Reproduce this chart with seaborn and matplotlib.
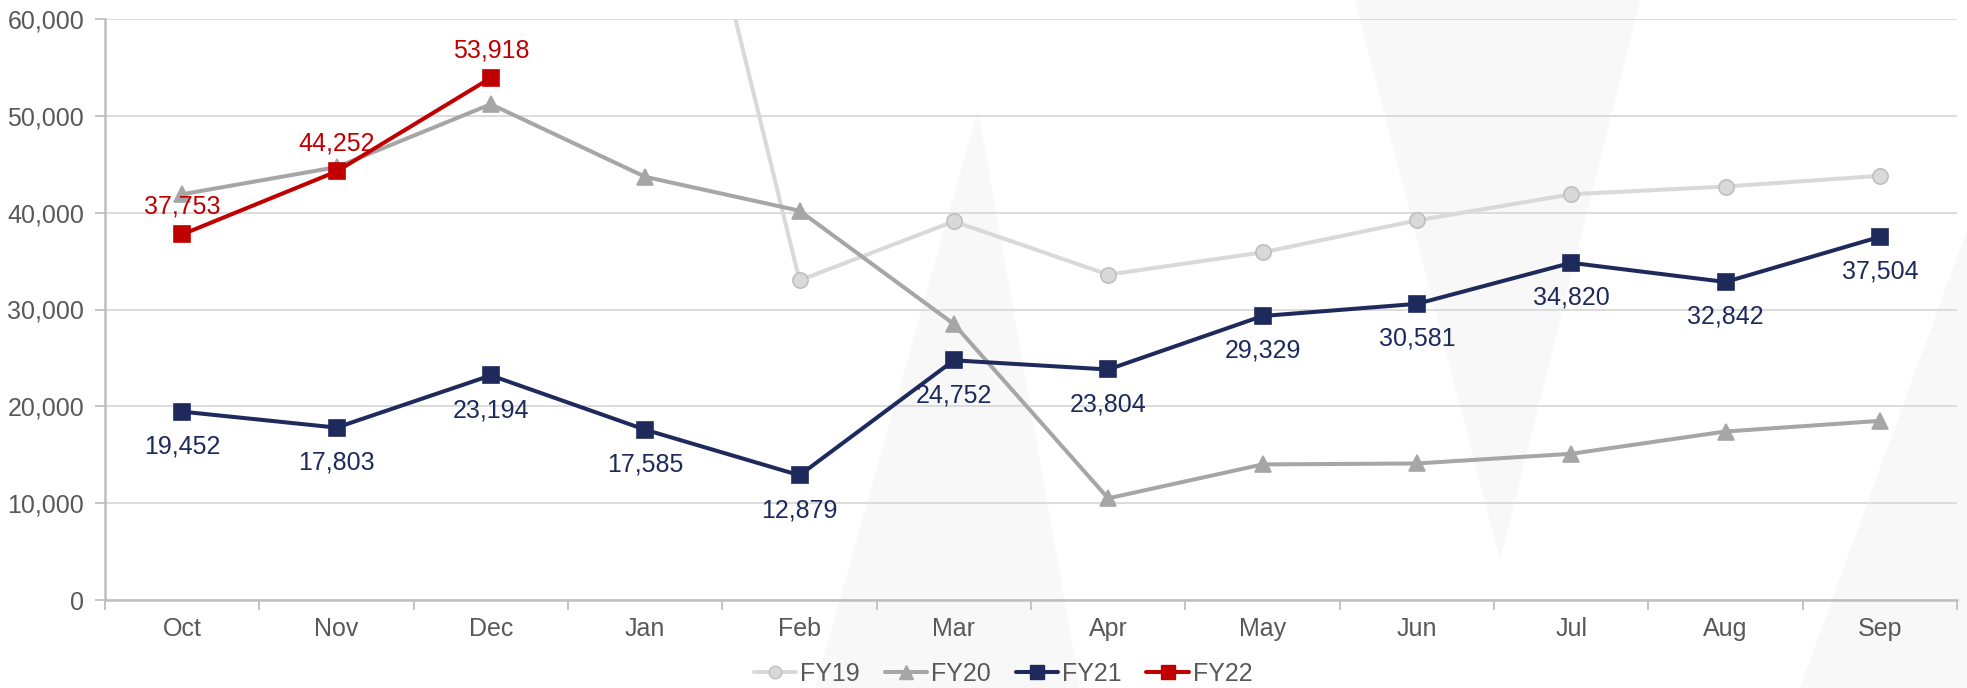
import numpy as np
import pandas as pd
import matplotlib
matplotlib.use("Agg")
import matplotlib.pyplot as plt
from matplotlib.patches import Polygon
from matplotlib.lines import Line2D
from matplotlib.ticker import FuncFormatter, FixedLocator
import seaborn as sns

sns.set_theme(style="white")
plt.rcParams['font.family'] = ['Liberation Sans', 'DejaVu Sans']

## Data ##

months = ["Oct", "Nov", "Dec", "Jan", "Feb", "Mar", "Apr", "May", "Jun", "Jul", "Aug", "Sep"]
fy19 = [np.nan, np.nan, np.nan, 98000, 33000, 39100, 33600, 35900, 39200, 41900, 42700, 43800]
fy20 = [41900, 44700, 51200, 43700, 40200, 28500, 10500, 14000, 14100, 15100, 17400, 18500]
fy21 = [19452, 17803, 23194, 17585, 12879, 24752, 23804, 29329, 30581, 34820, 32842, 37504]
fy22 = [37753, 44252, 53918, np.nan, np.nan, np.nan, np.nan, np.nan, np.nan, np.nan, np.nan, np.nan]
y_ticks = [0, 10000, 20000, 30000, 40000, 50000, 60000]

## Styles ##

styles = {
    "FY19": dict(color="#d9d9d9", marker="o", ms=11, mec="#bfbfbf", lw=2.9, z=2),
    "FY20": dict(color="#a6a6a6", marker="^", ms=12, mec="#a6a6a6", lw=2.9, z=3),
    "FY21": dict(color="#1f2a5c", marker="s", ms=12, mec="#1f2a5c", lw=2.9, z=4),
    "FY22": dict(color="#c00000", marker="s", ms=12, mec="#c00000", lw=2.9, z=5),
}
series = {"FY19": fy19, "FY20": fy20, "FY21": fy21, "FY22": fy22}

df = pd.DataFrame({"Month": months, "pos": np.arange(len(months))})
for k, v in series.items():
    df[k] = v

fig = plt.figure(figsize=(19.67, 6.88), dpi=100)
fig.patch.set_facecolor("white")

# faint watermark shapes in the background
wm = "#f8f8f8"
for pts in [
    [(815, 688), (978, 110), (1080, 688)],
    [(1355, 0), (1640, 0), (1500, 560)],
    [(1800, 688), (1967, 230), (1967, 688)],
]:
    fig.patches.append(Polygon([(x / 1967, 1 - y / 688) for x, y in pts],
                               closed=True, transform=fig.transFigure,
                               facecolor=wm, edgecolor="none", zorder=0))

ax = fig.add_axes([105 / 1967, 1 - 600 / 688, (1957 - 105) / 1967, (600 - 19) / 688])
ax.set_facecolor("none")
ax.set_zorder(1)

for name, st in styles.items():
    sns.lineplot(data=df, x="pos", y=name, ax=ax, color=st["color"],
                 marker=st["marker"], markersize=st["ms"],
                 markeredgecolor=st["mec"], markeredgewidth=1.2,
                 linewidth=st["lw"], zorder=st["z"], legend=False)

# data labels
for x, v in zip(df["pos"], fy21):
    ax.annotate("{:,}".format(int(v)), (x, v), xytext=(0, -25), textcoords="offset points",
                ha="center", va="center", fontsize=18, color="#1f2a5c", zorder=6)
for x, v in zip(df["pos"], fy22):
    if not np.isnan(v):
        ax.annotate("{:,}".format(int(v)), (x, v), xytext=(0, 20), textcoords="offset points",
                    ha="center", va="center", fontsize=18, color="#c00000", zorder=6)

ax.set_xlim(-0.5, len(months) - 0.5)
ax.set_ylim(0, 60000)
ax.set_yticks(y_ticks)
ax.yaxis.set_major_formatter(FuncFormatter(lambda v, p: "{:,}".format(int(v))))
ax.set_xticks(df["pos"])
ax.set_xticklabels(months)
ax.xaxis.set_minor_locator(FixedLocator(np.arange(-0.5, len(months), 1.0)))
ax.set_xlabel("")
ax.set_ylabel("")

ax.grid(axis="y", color="#d9d9d9", linewidth=1.3, zorder=0)
ax.set_axisbelow(True)
for s in ["top", "right"]:
    ax.spines[s].set_visible(False)
for s in ["left", "bottom"]:
    ax.spines[s].set_color("#bfbfbf")
    ax.spines[s].set_linewidth(1.8)

ax.tick_params(axis="y", which="major", length=7, width=1.3, color="#bfbfbf",
               labelsize=18, labelcolor="#595959", pad=8, left=True)
ax.tick_params(axis="x", which="major", length=0, labelsize=18, labelcolor="#595959", pad=12)
ax.tick_params(axis="x", which="minor", length=7, width=1.3, color="#bfbfbf", bottom=True)

handles = [Line2D([0], [0], color=st["color"], marker=st["marker"], markersize=st["ms"] - 2,
                  markeredgecolor=st["mec"], linewidth=st["lw"])
           for st in styles.values()]
fig.legend(handles, list(styles.keys()), loc="center", bbox_to_anchor=(1003 / 1967, 1 - 674 / 688),
           ncol=4, frameon=False, fontsize=18, labelcolor="#595959",
           handlelength=1.7, handletextpad=0.15, columnspacing=1.0)

plt.savefig("out.png", dpi=100)
